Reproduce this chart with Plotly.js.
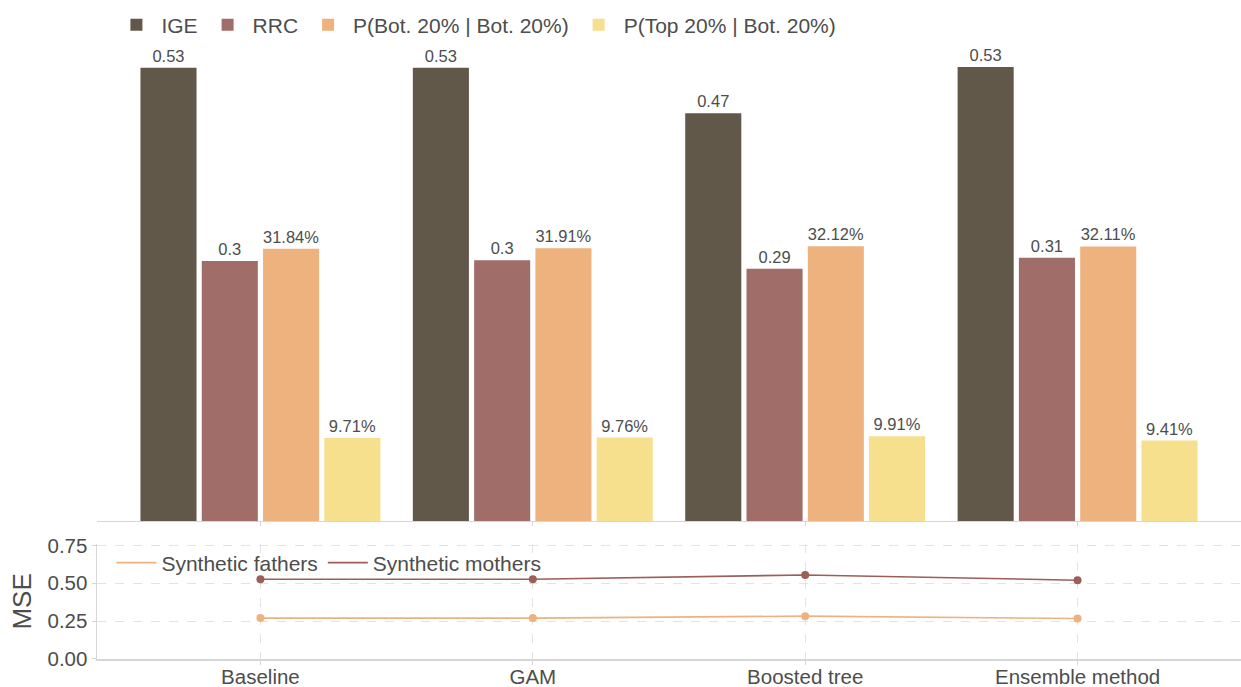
<!DOCTYPE html>
<html>
<head>
<meta charset="utf-8">
<script src="https://cdn.plot.ly/plotly-3.0.1.min.js"></script>
<style>html,body{margin:0;padding:0;background:#fff;}#chart{width:1241px;height:687px;}</style>
</head>
<body>
<div id="chart"></div>
<script>
// ---- data ----
const methods = ['Baseline', 'GAM', 'Boosted tree', 'Ensemble method'];
const igeValues = [0.530, 0.530, 0.477, 0.531];
const igeLabels = ['0.53', '0.53', '0.47', '0.53'];
const rrcValues = [0.304, 0.305, 0.295, 0.308];
const rrcLabels = ['0.3', '0.3', '0.29', '0.31'];
const pBotBotPct = [31.84, 31.91, 32.12, 32.11];
const pTopBotPct = [9.71, 9.76, 9.91, 9.41];
const mseFathers = [0.270, 0.270, 0.283, 0.267];
const mseMothers = [0.526, 0.526, 0.555, 0.520];
const mseTicks = [0, 0.25, 0.5, 0.75];
const mseTickLabels = ['0.00', '0.25', '0.50', '0.75'];

const FONT = 'Liberation Sans, Arial, sans-serif';
const TXT = '#4d4d4d';
const AX = '#d6d6d6';
const colors = {ige: '#61584a', rrc: '#a06d68', bot: '#eeb27f', top: '#f6df8d', mothers: '#9c5e59', fathers: '#eeb27f'};

function pctLabel(v) { return v.toFixed(2) + '%'; }

function barTrace(name, vals, labels, color) {
  return {
    type: 'bar', name: name, x: methods, y: vals, text: labels,
    textposition: 'outside', cliponaxis: false,
    textfont: {family: FONT, size: 16.5, color: TXT},
    marker: {color: color, line: {width: 0}},
    xaxis: 'x', yaxis: 'y', legend: 'legend', hoverinfo: 'x+y+name'
  };
}

function mseLine(name, vals, color) {
  return {
    type: 'scatter', mode: 'lines', name: name, x: methods, y: vals,
    line: {color: color, width: 1.6},
    xaxis: 'x2', yaxis: 'y2', legend: 'legend2'
  };
}
function msePoints(name, vals, color) {
  return {
    type: 'scatter', mode: 'markers', name: name, x: methods, y: vals,
    marker: {color: color, size: 8}, showlegend: false,
    xaxis: 'x2', yaxis: 'y2'
  };
}

const traces = [
  barTrace('IGE', igeValues, igeLabels, colors.ige),
  barTrace('RRC', rrcValues, rrcLabels, colors.rrc),
  barTrace('P(Bot. 20% | Bot. 20%)', pBotBotPct.map(v => v / 100), pBotBotPct.map(pctLabel), colors.bot),
  barTrace('P(Top 20% | Bot. 20%)', pTopBotPct.map(v => v / 100), pTopBotPct.map(pctLabel), colors.top),
  mseLine('Synthetic fathers', mseFathers, colors.fathers),
  mseLine('Synthetic mothers', mseMothers, colors.mothers),
  msePoints('Synthetic fathers', mseFathers, colors.fathers),
  msePoints('Synthetic mothers', mseMothers, colors.mothers)
];

const layout = {
  width: 1241, height: 687,
  margin: {l: 97, r: 0, t: 40, b: 28},
  paper_bgcolor: '#fff', plot_bgcolor: '#fff',
  font: {family: FONT, color: TXT},
  barmode: 'group', bargap: 0.10, bargroupgap: 0.085,
  showlegend: true,
  xaxis: {
    type: 'category', range: [-0.6, 3.6], anchor: 'y', domain: [0, 1],
    showticklabels: false, showgrid: false, zeroline: false,
    showline: true, linecolor: AX, linewidth: 1.5,
    ticks: 'outside', ticklen: 4, tickcolor: AX
  },
  yaxis: {
    domain: [0.223, 1], range: [0, 0.5626], visible: false, anchor: 'x'
  },
  xaxis2: {
    type: 'category', range: [-0.6, 3.6], anchor: 'y2', domain: [0, 1],
    showgrid: true, gridcolor: '#e3e3e3', griddash: 'dash', gridwidth: 1.2,
    zeroline: false, showline: true, linecolor: AX, linewidth: 1.5,
    ticks: 'outside', ticklen: 4, tickcolor: AX, ticklabelstandoff: -5,
    tickfont: {family: FONT, size: 20.5, color: TXT}
  },
  yaxis2: {
    domain: [0, 0.186], range: [0, 0.76], anchor: 'x2',
    tickvals: mseTicks, ticktext: mseTickLabels,
    showgrid: true, gridcolor: '#e3e3e3', griddash: 'dash', gridwidth: 1.2,
    zeroline: false, showline: true, linecolor: AX, linewidth: 1.5,
    ticks: 'outside', ticklen: 4, tickcolor: AX,
    tickfont: {family: FONT, size: 20.5, color: TXT},
    title: {text: 'MSE', font: {family: FONT, size: 26, color: TXT}, standoff: 8}
  },
  legend: {
    orientation: 'h', x: 0.0126, xanchor: 'left', xref: 'paper',
    y: (659 - 25) / 619, yref: 'paper', yanchor: 'middle', itemwidth: 40,
    font: {family: FONT, size: 21, color: TXT}, bgcolor: 'rgba(0,0,0,0)', traceorder: 'normal'
  },
  legend2: {
    orientation: 'h', x: 0.0126, xanchor: 'left', xref: 'paper',
    y: (659 - 563) / 619, yref: 'paper', yanchor: 'middle', itemwidth: 40,
    font: {family: FONT, size: 21, color: TXT}, bgcolor: 'rgba(0,0,0,0)', traceorder: 'normal'
  }
};

Plotly.newPlot('chart', traces, layout, {displayModeBar: false, staticPlot: true});
</script>
</body>
</html>
